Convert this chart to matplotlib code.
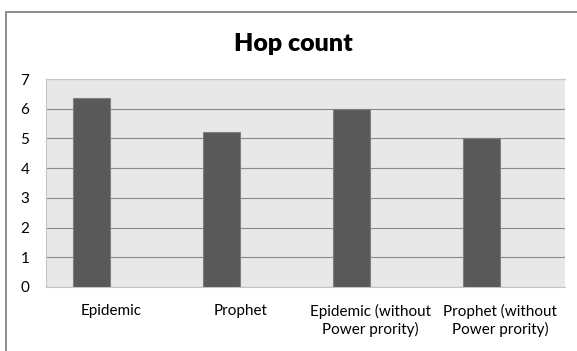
import matplotlib
matplotlib.use("Agg")
import matplotlib.pyplot as plt
from matplotlib.patches import Rectangle

categories = ["Epidemic", "Prophet", "Epidemic (without\nPower prority)", "Prophet (without\nPower prority)"]
hop_count = [6.35, 5.2, 6.0, 5.0]
y_ticks = [0, 1, 2, 3, 4, 5, 6, 7]

plt.rcParams['font.family'] = ['Lato', 'DejaVu Sans']

fig = plt.figure(figsize=(5.77, 3.51), dpi=100)
W, H = 577, 351
ax = fig.add_axes([46 / W, 1 - 287 / H, (565 - 46) / W, (287 - 79) / H])
ax.set_facecolor("#e8e8e8")

# outer chart border (only left and top visible in the reference)
fig.patches.append(Rectangle((6 / W, -0.1), 1.2, 1 - 12 / H + 0.1, transform=fig.transFigure,
                             fill=False, edgecolor="#8c8c8c", linewidth=1.4, clip_on=False))

x = list(range(len(categories)))
bar_x = [i - 0.146 for i in x]
ax.bar(bar_x, hop_count, width=0.285, color="#595959", edgecolor="#7f7f7f", linewidth=0.8, zorder=3)

ax.set_xlim(-0.5, 3.5)
ax.set_ylim(0, 7)
ax.set_yticks(y_ticks)
ax.set_xticks(x)
ax.set_xticklabels(categories, multialignment="center", linespacing=1.3)
ax.tick_params(axis="both", length=0, labelsize=11, colors="#000000")
ax.tick_params(axis="y", pad=12)
ax.tick_params(axis="x", pad=12)
ax.yaxis.grid(True, color="#8a8a8a", linewidth=0.8, zorder=1)
ax.set_axisbelow(True)
for side in ["top", "left", "bottom"]:
    ax.spines[side].set_color("#c4c4c4")
    ax.spines[side].set_linewidth(0.8)
ax.spines["right"].set_visible(False)

fig.text(293 / W, 1 - 44 / H, "Hop count", ha="center", va="center", fontsize=18, fontweight="heavy")

fig.savefig("out.png", dpi=100)
